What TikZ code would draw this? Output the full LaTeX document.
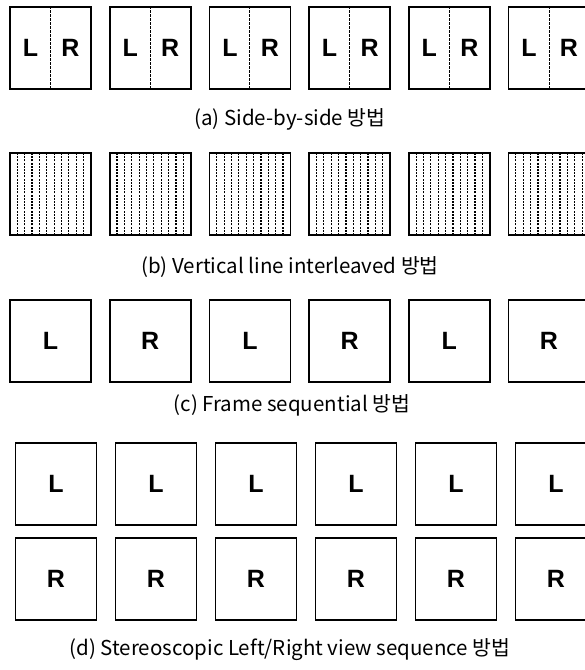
\documentclass[tikz,border=0pt]{standalone}
\usepackage{fontspec}
\setmainfont{Noto Sans CJK KR}
\newfontfamily\lrfont{Liberation Sans}

\begin{document}
\begin{tikzpicture}[
	x=1pt, y=-1pt,
	frame/.style={
		draw, line width=1.6pt,
		minimum width=81pt,
		minimum height=82pt,
		inner sep=0pt,
		font=\lrfont\bfseries\fontsize{25}{25}\selectfont
	},
	interleaved/.style={
		frame,
		path picture={
			\foreach \k in {1,...,10}
				\draw[line width=1.2pt, dash pattern=on 2pt off 1.2pt]
					([xshift=\k*7.36pt]path picture bounding box.south west) --
					([xshift=\k*7.36pt]path picture bounding box.north west);
		}
	},
	split/.style={line width=1pt, dash pattern=on 2.5pt off 1.5pt},
	caption/.style={font=\fontsize{20.5}{22}\selectfont}
	]
	
	\useasboundingbox (0,0) rectangle (585,670);
	\clip (0,0) rectangle (585,670);
	
	% (a) side-by-side
	\node[frame] (a1) at (50.5,48)  {};
	\node[frame] (a2) at (150.2,48) {};
	\node[frame] (a3) at (249.9,48) {};
	\node[frame] (a4) at (349.6,48) {};
	\node[frame] (a5) at (449.3,48) {};
	\node[frame] (a6) at (549,48)   {};
	
	\draw[split] (a1.north) -- (a1.south);
	\draw[split] (a2.north) -- (a2.south);
	\draw[split] (a3.north) -- (a3.south);
	\draw[split] (a4.north) -- (a4.south);
	\draw[split] (a5.north) -- (a5.south);
	\draw[split] (a6.north) -- (a6.south);
	
	\node[font=\lrfont\bfseries\fontsize{25}{25}\selectfont] (a1l) at (30.5,48)  {L};
	\node[font=\lrfont\bfseries\fontsize{25}{25}\selectfont] (a1r) at (70.5,48)  {R};
	\node[font=\lrfont\bfseries\fontsize{25}{25}\selectfont] (a2l) at (130.2,48) {L};
	\node[font=\lrfont\bfseries\fontsize{25}{25}\selectfont] (a2r) at (170.2,48) {R};
	\node[font=\lrfont\bfseries\fontsize{25}{25}\selectfont] (a3l) at (229.9,48) {L};
	\node[font=\lrfont\bfseries\fontsize{25}{25}\selectfont] (a3r) at (269.9,48) {R};
	\node[font=\lrfont\bfseries\fontsize{25}{25}\selectfont] (a4l) at (329.6,48) {L};
	\node[font=\lrfont\bfseries\fontsize{25}{25}\selectfont] (a4r) at (369.6,48) {R};
	\node[font=\lrfont\bfseries\fontsize{25}{25}\selectfont] (a5l) at (429.3,48) {L};
	\node[font=\lrfont\bfseries\fontsize{25}{25}\selectfont] (a5r) at (469.3,48) {R};
	\node[font=\lrfont\bfseries\fontsize{25}{25}\selectfont] (a6l) at (529,48)   {L};
	\node[font=\lrfont\bfseries\fontsize{25}{25}\selectfont] (a6r) at (569,48)   {R};
	
	\node[caption] (capa) at (290,119) {(a) Side-by-side 방법};
	
	% (b) vertical line interleaved
	\node[interleaved] (b1) at (50.5,194)  {};
	\node[interleaved] (b2) at (150.2,194) {};
	\node[interleaved] (b3) at (249.9,194) {};
	\node[interleaved] (b4) at (349.6,194) {};
	\node[interleaved] (b5) at (449.3,194) {};
	\node[interleaved] (b6) at (549,194)   {};
	
	\node[caption] (capb) at (290,267) {(b) Vertical line interleaved 방법};
	
	% (c) frame sequential
	\node[frame] (c1) at (50.5,341)  {L};
	\node[frame] (c2) at (150.2,341) {R};
	\node[frame] (c3) at (249.9,341) {L};
	\node[frame] (c4) at (349.6,341) {R};
	\node[frame] (c5) at (449.3,341) {L};
	\node[frame] (c6) at (549,341)   {R};
	
	\node[caption] (capc) at (292,405) {(c) Frame sequential 방법};
	
	% (d) left/right view sequence
	\node[frame] (dl1) at (56,484)  {L};
	\node[frame] (dl2) at (156,484) {L};
	\node[frame] (dl3) at (256,484) {L};
	\node[frame] (dl4) at (356,484) {L};
	\node[frame] (dl5) at (456,484) {L};
	\node[frame] (dl6) at (556,484) {L};
	
	\node[frame] (dr1) at (56,579)  {R};
	\node[frame] (dr2) at (156,579) {R};
	\node[frame] (dr3) at (256,579) {R};
	\node[frame] (dr4) at (356,579) {R};
	\node[frame] (dr5) at (456,579) {R};
	\node[frame] (dr6) at (556,579) {R};
	
	\node[caption] (capd) at (290,650) {(d) Stereoscopic Left/Right view sequence 방법};
	
\end{tikzpicture}
\end{document}
